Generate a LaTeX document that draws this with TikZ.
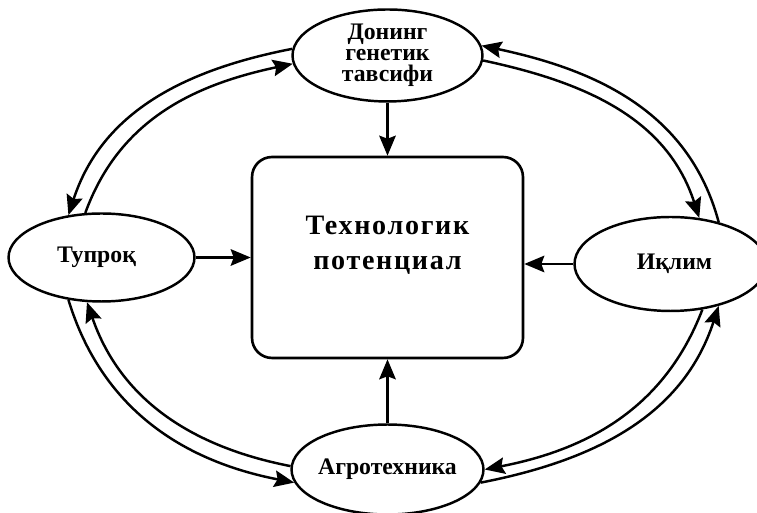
\documentclass[tikz,border=0pt]{standalone}
\usepackage{fontspec}
\setmainfont{Liberation Serif}
\usetikzlibrary{arrows.meta,positioning,shapes.geometric}

\begin{document}
\begin{tikzpicture}[
        x=.02cm,y=.02cm,
        tbox/.style={draw,rounded corners=.4cm,line width=1.5pt,
                     minimum width=5.42cm,minimum height=4.02cm},
        oval/.style={draw,ellipse,line width=1.4pt,inner sep=0pt},
        big/.style={align=center,
                    font=\bfseries\fontsize{16}{20}\selectfont\addfontfeatures{LetterSpace=6}},
        lbl/.style={align=center,font=\bfseries\fontsize{13.5}{12}\selectfont},
        arr/.style={-{Stealth[length=4mm,width=3.3mm,inset=.6mm]},line width=1.4pt}
      ]
        \useasboundingbox (0,0) rectangle (757,513);
        \node[tbox,label={[big,yshift=.24cm]center:{Технологик\\потенциал}}] (tech) at (387.5,255.5) {};
        \node[oval,minimum width=3.8cm,minimum height=1.84cm,above=1.06cm of tech,
              label={[lbl]center:{Донинг\\генетик\\тавсифи}}] (donor) {};
        \node[oval,minimum width=3.72cm,minimum height=1.76cm,left=1.1cm of tech,
              label={[lbl,xshift=-.1cm]center:Тупроқ}] (soil) {};
        \node[oval,minimum width=3.84cm,minimum height=1.88cm,right=.98cm of tech,yshift=-.13cm,
              label={[lbl,xshift=.08cm]center:Иқлим}] (clim) {};
        \node[oval,minimum width=3.84cm,minimum height=1.8cm,below=1.28cm of tech,
              label={[lbl]center:Агротехника}] (agro) {};
        \draw[arr] (donor) -- (tech);
        \draw[arr] (soil) -- (tech);
        \draw[arr] (clim.west) -- (tech.east |- clim.west);
        \draw[arr] (agro) -- (tech);
        \draw[arr] (donor.176) to[out=191,in=72] (soil.128);
        \draw[arr] (soil.110) to[out=70,in=192] (donor.185);
        \draw[arr] (clim.41) to[out=105,in=-12] (donor.6);
        \draw[arr] (donor.-3) to[out=-12,in=108] (clim.58);
        \draw[arr] (soil.232) to[out=-73,in=169] (agro.188);
        \draw[arr] (agro.178) to[out=169,in=-71] (soil.252);
        \draw[arr] (agro.-8) to[out=11,in=252] (clim.-41);
        \draw[arr] (clim.-55) to[out=249,in=11] (agro.0);
      \end{tikzpicture}
\end{document}
